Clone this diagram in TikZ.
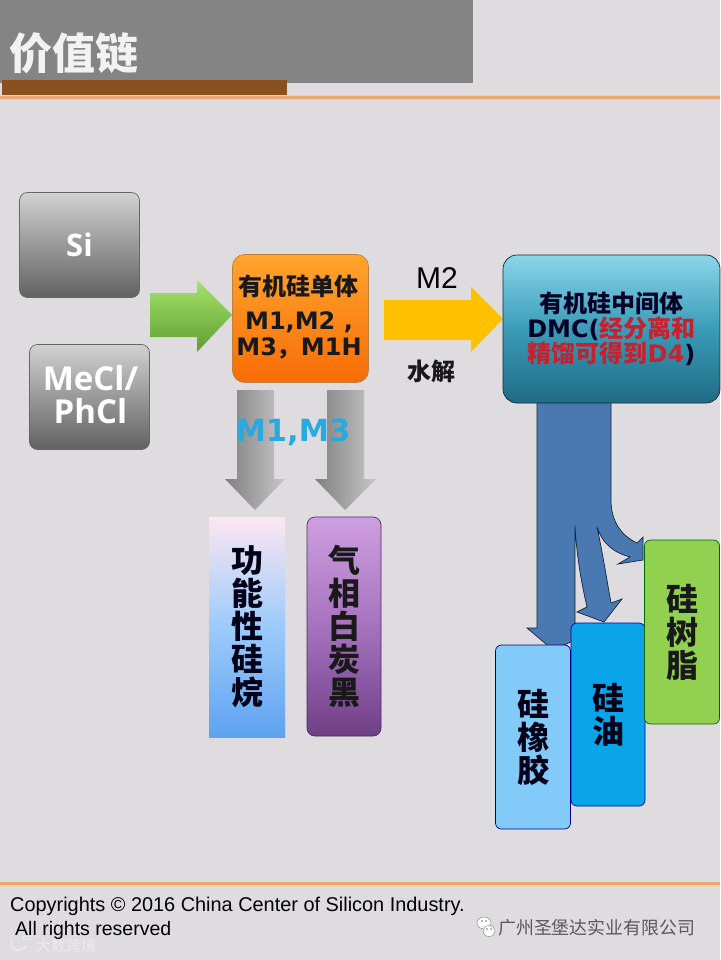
\documentclass[tikz,border=0pt]{standalone}
\usepackage{fontspec}
\setmainfont{Liberation Sans}
\newfontfamily\cjk{Noto Sans CJK SC}
\newfontfamily\djv{DejaVu Sans}
\newfontfamily\opn{Open Sans}
\usetikzlibrary{calc}
\definecolor{bg}{HTML}{DEDCDF}
\definecolor{hdr}{HTML}{848484}
\definecolor{brownbar}{HTML}{8B5020}
\definecolor{arrowblue}{HTML}{4A78B0}
\definecolor{outl}{HTML}{14263C}
\definecolor{mtxt}{HTML}{29A9E0}
\definecolor{redtxt}{HTML}{C8202C}
\definecolor{grnT}{HTML}{A6E36A}
\definecolor{grnB}{HTML}{5E9E32}
\definecolor{yel}{HTML}{FFC000}
\definecolor{orT}{HTML}{FFA52E}
\definecolor{orB}{HTML}{F86C06}
\definecolor{dmcT}{HTML}{8AD6EA}
\definecolor{dmcM}{HTML}{3A9BB8}
\definecolor{dmcB}{HTML}{1F6C85}
\definecolor{silT}{HTML}{FDE6F2}
\definecolor{silM}{HTML}{9CCBFA}
\definecolor{silB}{HTML}{5FA2F0}
\definecolor{purT}{HTML}{CE9FE0}
\definecolor{purM}{HTML}{A672BE}
\definecolor{purB}{HTML}{6F3F86}
\definecolor{rubF}{HTML}{82CBF8}
\definecolor{oilF}{HTML}{0AA5E8}
\definecolor{resF}{HTML}{92D050}
\definecolor{ruleC}{HTML}{E9A873}
\definecolor{glowC}{HTML}{F4CDAE}
\tikzset{
  box/.style={draw=#1,line width=.7pt,rounded corners=8pt,inner sep=0pt,align=center,font=\cjk\bfseries},
  gbox/.style={box=black!60,top color=black!18,bottom color=black!62,text=white},
  rule/.style={line width=2.4pt,draw=ruleC},
  ruleglow/.style={line width=5pt,draw=glowC},
  blockblue/.style={fill=arrowblue,draw=outl,line width=.7pt,line join=miter},
  greyarrow/.style={left color=black!50,right color=black!22,draw=none},
  vert/.style={font=\cjk\bfseries\fontsize{32}{33}\selectfont},
}
\begin{document}
\begin{tikzpicture}[x=1pt,y=-1pt]
\useasboundingbox (0,0) rectangle (720,960);
\fill[bg] (0,0) rectangle (720,960);
% header
\fill[hdr] (0,0) rectangle (473,83);
\draw[ruleglow] (0,98) -- (720,98);
\draw[rule] (0,97.5) -- (720,97.5);
\fill[brownbar] (2,80) rectangle (287,95.5);
\node[anchor=center,text=white!95!black,font=\cjk\bfseries\fontsize{43}{45}\selectfont,inner sep=0pt] (title) at (74,53) {价值链};
\draw[ruleglow] (0,884) -- (720,884);
\draw[rule] (0,883.5) -- (720,883.5);

% green arrow
\coordinate (greenTip) at (232,315);
\shade[top color=grnT,bottom color=grnB]
  (150,293) -- (197,293) -- (197,280) -- (greenTip) -- (197,352) -- (197,337) -- (150,337) -- cycle;
% yellow arrow
\coordinate (yellowTip) at (503,319);
\fill[yel] (384,300) -- (471,300) -- (471,287) -- (yellowTip) -- (471,352) -- (471,340) -- (384,340) -- cycle;
% grey arrows
\coordinate (greyTipA) at (255,510);
\coordinate (greyTipB) at (345,510);
\shade[greyarrow] (237,390) -- (274,390) -- (274,479) -- (285,479) -- (greyTipA) -- (225,479) -- (237,479) -- cycle;
\shade[greyarrow] (327,390) -- (364,390) -- (364,479) -- (376,479) -- (greyTipB) -- (315,479) -- (327,479) -- cycle;

% branching blue arrow
\coordinate (rubberTip) at (553,650);
\coordinate (oilTip) at (604,622);
\coordinate (resinTip) at (643,560);
\draw[blockblue]
  (537,400) -- (537,628) -- (527,628) -- (rubberTip) -- (575,640) -- (575,526)
  .. controls (577,560) and (582,585) .. (587,607)
  -- (577,612) -- (oilTip) -- (622,599) -- (611,603)
  .. controls (606,575) and (602,550) .. (597,527)
  .. controls (603,545) and (615,553) .. (630,557)
  -- (618,564) -- (resinTip) -- (643,537) -- (637,543)
  .. controls (620,535) and (611,520) .. (611,500)
  -- (611,400) -- cycle;

% source boxes
\node[gbox,minimum width=120pt,minimum height=105pt,font=\opn\bfseries\fontsize{31}{36}\selectfont] (si) at (79.5,245) {Si};
\node[gbox,minimum width=120pt,minimum height=105pt] (mecl) at (89.5,397) {};
\node[inner sep=0pt,align=center,text=white,font=\opn\bfseries\fontsize{33}{33}\selectfont] (meclT) at (90.5,394.5) {MeCl/\\PhCl};

% monomer box
\node[box=brown,minimum width=136pt,minimum height=128pt,rounded corners=12pt,top color=orT,bottom color=orB] (mono) at (300.5,318.5) {};
\node[font=\cjk\bfseries\fontsize{24}{26}\selectfont,inner sep=0pt,text=black!90] (monoT) at (298.5,286) {有机硅单体};
\node[font=\djv\bfseries\fontsize{24}{26}\selectfont,inner sep=0pt,align=center,text=black!90] (monoM) at (299,335) {M1,M2 ,\\M3{\cjk ，}M1H};

% M2 labels
\node[font=\fontsize{30}{32}\selectfont,inner sep=0pt] (m2) at (437,278) {M2};
\node[font=\cjk\bfseries\fontsize{24}{26}\selectfont,inner sep=0pt,text=black!90] (hydro) at (431,371) {水解};
\node[font=\djv\bfseries\fontsize{30.5}{32}\selectfont,inner sep=0pt,text=mtxt] (m13) at (293,432) {M1,M3};

% DMC box
\node[box=outl,minimum width=217pt,minimum height=148pt,rounded corners=14pt,top color=dmcT,bottom color=dmcB,middle color=dmcM] (dmc) at (611.5,329) {};
\node[font=\cjk\bfseries\fontsize{24}{26}\selectfont,inner sep=0pt,align=center,text=black!85!blue] (dmcL) at (611.5,329)
  {有机硅中间体\\[-1pt]{\djv DMC(}\textcolor{redtxt}{经分离和}\\[-1pt]\textcolor{redtxt}{精馏可得到{\djv D4}}{\djv )}};

% product boxes
\node[box=none,minimum width=76pt,minimum height=220pt,rounded corners=0pt,top color=silT,bottom color=silB,middle color=silM,vert,text=black!90!blue] (silane) at (247,627) {功\\能\\性\\硅\\烷};
\node[box=purB!70!black,minimum width=74pt,minimum height=219pt,top color=purT,bottom color=purB,middle color=purM,vert,text=black!90] (silica) at (344,626.5) {气\\相\\白\\炭\\黑};
\node[box=blue!50!black,minimum width=75pt,minimum height=184pt,fill=rubF,rounded corners=6pt,vert,text=black!90!blue] (rubber) at (533,737) {硅\\橡\\胶};
\node[box=blue!60!black,minimum width=74pt,minimum height=183pt,fill=oilF,rounded corners=6pt,vert,text=black!90!blue] (oil) at (608,714.5) {硅\\油};
\node[box=green!40!black,minimum width=75pt,minimum height=184pt,fill=resF,rounded corners=6pt,vert,text=black!90] (resin) at (682,632) {硅\\树\\脂};

% footer
\node[anchor=west,inner sep=0pt,font=\fontsize{19.9}{22}\selectfont] (copy) at (10,906) {Copyrights © 2016 China Center of Silicon Industry.};
\node[anchor=west,inner sep=0pt,font=\fontsize{19.5}{22}\selectfont] (rights) at (15,930) {All rights reserved};
% WeChat mark
\fill[white,draw=black!45,line width=.5pt] (484,923) ellipse (7 and 6);
\fill[white,draw=black!45,line width=.5pt] (489,931) ellipse (6 and 5.5);
\fill[black!55] (482,921) circle (.9) (486,921) circle (.9) (487,929) circle (.8) (491,929) circle (.8);
\node[anchor=west,inner sep=0pt,font=\cjk\fontsize{17.9}{20}\selectfont,text=black!65] (wm) at (498,928) {广州圣堡达实业有限公司};
\node[anchor=west,inner sep=0pt,font=\cjk\fontsize{15}{17}\selectfont,text=white!92!black] (wmb) at (36,946) {大数跨境};
\draw[white!92!black,line width=1.6pt] (12,938) .. controls (9,952) and (20,953) .. (26,946);
\draw[white!92!black,line width=.8pt] (25,938) circle (2) (30,938) circle (2);
\end{tikzpicture}
\end{document}
